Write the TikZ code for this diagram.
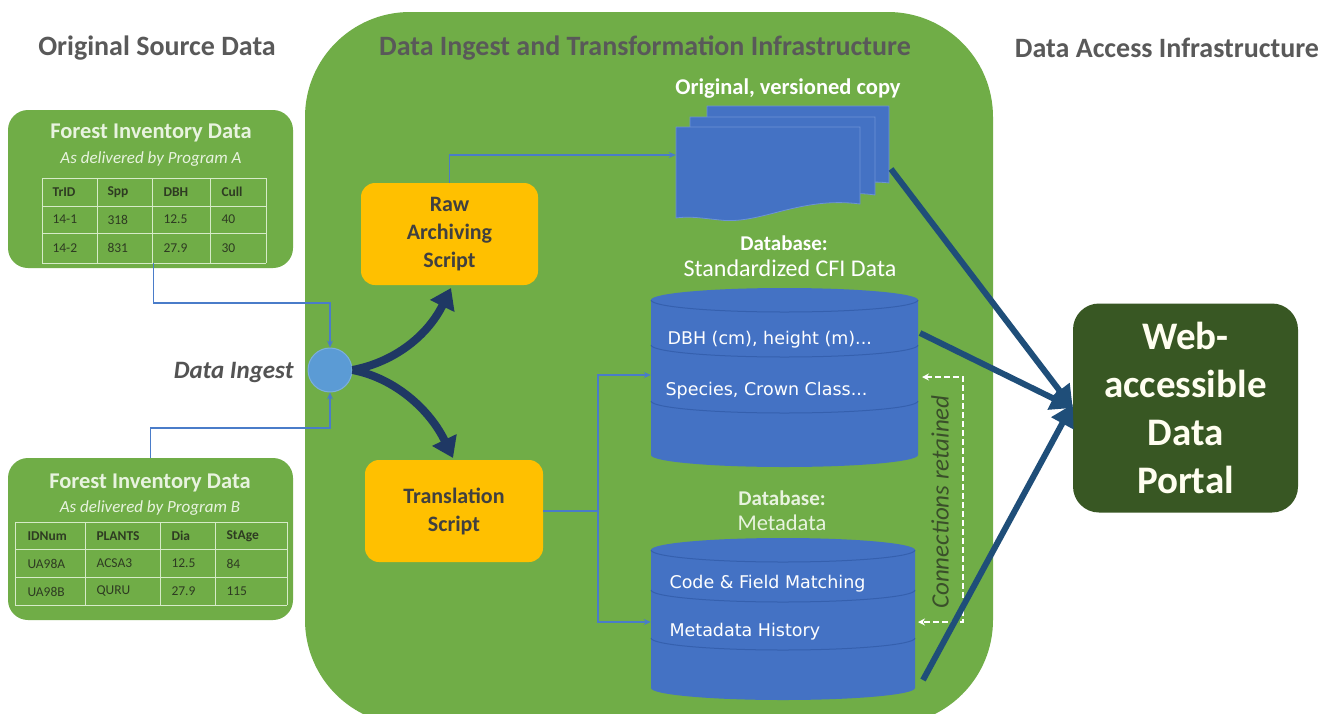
\documentclass[tikz,border=0pt]{standalone}
\usepackage{fontspec}
\setmainfont{Carlito}
\newfontfamily\dvsans{DejaVu Sans}
\usetikzlibrary{arrows.meta}
\definecolor{gr}{HTML}{70AD47}
\definecolor{ylw}{HTML}{FFC000}
\definecolor{dbblue}{HTML}{4472C4}
\definecolor{dbedge}{HTML}{3560AE}
\definecolor{sheetedge}{HTML}{6C93D6}
\definecolor{circ}{HTML}{5B9BD5}
\definecolor{lblue}{HTML}{4A7CC9}
\definecolor{navy}{HTML}{1F3864}
\definecolor{parrow}{HTML}{1F4E79}
\definecolor{portalg}{HTML}{385723}
\definecolor{titlegray}{HTML}{595959}
\definecolor{darktxt}{HTML}{404040}
\definecolor{celltxt}{HTML}{2E3B22}
\definecolor{tline}{HTML}{D6EBC8}
\definecolor{paletxt}{HTML}{E8F3DF}
\definecolor{connlbl}{HTML}{3A4F2A}
\tikzset{
  heading/.style={font=\fontsize{28}{32}\selectfont\bfseries, text=titlegray},
  srcbox/.style={fill=gr, rounded corners=20pt, draw=none},
  srctitle/.style={font=\fontsize{22.5}{26}\selectfont\bfseries, text=paletxt},
  srcsub/.style={font=\fontsize{17}{20}\selectfont\itshape, text=paletxt},
  cell/.style={font=\fontsize{13.5}{15}\selectfont, text=celltxt, anchor=west},
  hcell/.style={cell, font=\fontsize{13.5}{15}\selectfont\bfseries},
  tab/.style={draw=tline, line width=1pt},
  scriptbox/.style={fill=ylw, rounded corners=14pt, draw=none, text=darktxt,
     font=\fontsize{22}{28}\selectfont\bfseries, align=center},
  conn/.style={draw=lblue, line width=1.6pt, -{Stealth[length=7pt,width=6pt]}},
  plainconn/.style={draw=lblue, line width=1.6pt},
  bigcurve/.style={draw=navy, line width=8pt, -{Triangle[length=20pt,width=26pt]}},
  portalarrow/.style={draw=parrow, line width=6pt, -{Triangle[length=22pt,width=24pt]}},
  dbtxt/.style={font=\dvsans\fontsize{17.5}{20}\selectfont, text=white, anchor=west},
  lbl/.style={text=white, font=\fontsize{18}{22}\selectfont},
  sheet/.style={fill=dbblue, draw=sheetedge, line width=0.8pt},
  cylfill/.style={fill=dbblue, draw=none},
  cyline/.style={draw=dbedge, line width=1pt},
}
\begin{document}
\begin{tikzpicture}[x=1pt,y=-1pt]
\useasboundingbox (0,0) rectangle (1336,713);
\fill[white] (0,0) rectangle (1336,713);
% big green area
\begin{scope}
\clip (0,0) rectangle (1336,713);
\fill[gr, rounded corners=105pt] (305,12) rectangle (993,725);
\end{scope}

% headings
\node[heading] (h1) at (157,48) {Original Source Data};
\node[heading] (h2) at (645,48) {Data Ingest and Transformation Infrastructure};
\node[heading] (h3) at (1167,48) {Data Access Infrastructure};

% ---------- source box A ----------
\fill[srcbox] (8,110) rectangle (293,268);
\node[srctitle] (tA) at (151,133) {Forest Inventory Data};
\node[srcsub] (sA) at (151,159) {As delivered by Program A};
\foreach \y in {178,206,233,263} \draw[tab] (42,\y) -- (266,\y);
\foreach \x in {42,97,152,210,266} \draw[tab] (\x,178) -- (\x,263);
\node[inner sep=0, minimum width=223pt, minimum height=85pt] (tabA) at (153.5,220.5) {};
\node[hcell] at (49,192) {TrID};
\node[hcell] at (104,192) {Spp};
\node[hcell] at (160,192) {DBH};
\node[hcell] at (218,192) {Cull};
\node[cell] at (49,219.5) {14-1};
\node[cell] at (104,219.5) {318};
\node[cell] at (160,219.5) {12.5};
\node[cell] at (218,219.5) {40};
\node[cell] at (49,248) {14-2};
\node[cell] at (104,248) {831};
\node[cell] at (160,248) {27.9};
\node[cell] at (218,248) {30};

% ---------- source box B ----------
\fill[srcbox] (8,458) rectangle (293,620);
\node[inner sep=0, minimum width=285pt, minimum height=162pt] (srcB) at (150.5,539) {};
\node[srctitle] (tB) at (150,483) {Forest Inventory Data};
\node[srcsub] (sB) at (150,508) {As delivered by Program B};
\foreach \y in {522,549,577,605} \draw[tab] (15,\y) -- (287,\y);
\foreach \x in {15,85,160,215,287} \draw[tab] (\x,522) -- (\x,605);
\node[hcell] at (24,536) {IDNum};
\node[hcell] at (93,536) {PLANTS};
\node[hcell] at (168,536) {Dia};
\node[hcell] at (223,536) {StAge};
\node[cell] at (24,563.5) {UA98A};
\node[cell] at (93,563.5) {ACSA3};
\node[cell] at (168,563.5) {12.5};
\node[cell] at (223,563.5) {84};
\node[cell] at (24,591.5) {UA98B};
\node[cell] at (93,591.5) {QURU};
\node[cell] at (168,591.5) {27.9};
\node[cell] at (223,591.5) {115};

% ---------- ingest circle ----------
\node[circle, fill=circ, draw=circ!80!white, line width=1pt, minimum size=44pt, inner sep=0] (ingest) at (330,370) {};
\node[font=\fontsize{25}{28}\selectfont\bfseries\itshape, text=darktxt!90, anchor=east] (ingl) at (297,372) {Data Ingest};

\draw[conn] (tabA.south) -- ++(0,40) -| (ingest.north);
\draw[conn] (srcB.north) -- ++(0,-30) -| (ingest.south);

% ---------- script boxes ----------
\node[scriptbox, minimum width=177pt, minimum height=102pt] (raw) at (449.5,234) {Raw\\Archiving\\Script};
\node[scriptbox, minimum width=178pt, minimum height=102pt] (trans) at (454,511) {Translation\\Script};

\draw[bigcurve] (ingest.east) .. controls (395,362) and (428,335) .. (451,288);
\draw[bigcurve] (ingest.east) .. controls (395,378) and (430,410) .. (453,458);

% ---------- stack of sheets ----------
\draw[sheet] (707,106) -- (889,106) -- (889,183) .. controls (850,178) and (820,195) .. (760,200) -- (707,200) -- cycle;
\draw[sheet] (690,117) -- (875,117) -- (875,195) .. controls (830,188) and (800,210) .. (740,208) -- (690,208) -- cycle;
\draw[sheet] (676,127) -- (860,127) -- (860,204) .. controls (800,196) and (760,225) .. (720,220) .. controls (700,218) and (690,216) .. (676,218) -- cycle;
\node[inner sep=0, minimum width=184pt, minimum height=56pt] (stack) at (768,155) {};
\node[lbl, font=\fontsize{22.5}{26}\selectfont\bfseries] (origlbl) at (788,89) {Original, versioned copy};

\draw[conn] (raw.north) |- (stack.west);

% ---------- cylinder 1 ----------
\fill[cylfill] (651,300) -- (651,455) arc[start angle=180, end angle=360, x radius=133.5pt, y radius=12pt] -- (918,300) arc[start angle=0, end angle=180, x radius=133.5pt, y radius=12pt] -- cycle;
\draw[cyline] (651,300) arc[start angle=180, end angle=360, x radius=133.5pt, y radius=12pt];
\draw[cyline] (651,345) arc[start angle=180, end angle=360, x radius=133.5pt, y radius=12pt];
\draw[cyline] (651,401) arc[start angle=180, end angle=360, x radius=133.5pt, y radius=12pt];
\node[inner sep=0, minimum width=267pt, minimum height=150pt] (cyl1) at (784.5,375) {};
\node[dbtxt] (c1a) at (664,340) {DBH (cm), height (m)...};
\node[dbtxt] (c1b) at (662,391) {Species, Crown Class...};
\node[lbl, font=\fontsize{21}{24}\selectfont\bfseries] (db1a) at (784,243) {Database:};
\node[lbl, font=\fontsize{24}{28}\selectfont] (db1b) at (790,268) {Standardized CFI Data};

% ---------- cylinder 2 ----------
\fill[cylfill] (651,550) -- (651,688) arc[start angle=180, end angle=360, x radius=132pt, y radius=12pt] -- (915,550) arc[start angle=0, end angle=180, x radius=132pt, y radius=12pt] -- cycle;
\draw[cyline] (651,550) arc[start angle=180, end angle=360, x radius=132pt, y radius=12pt];
\draw[cyline] (651,590) arc[start angle=180, end angle=360, x radius=132pt, y radius=12pt];
\draw[cyline] (651,638) arc[start angle=180, end angle=360, x radius=132pt, y radius=12pt];
\node[inner sep=0, minimum width=264pt, minimum height=144pt] (cyl2) at (783,622) {};
\node[dbtxt] (c2a) at (666,584) {Code \& Field Matching};
\node[dbtxt] (c2b) at (666,632) {Metadata History};
\node[text=paletxt, font=\fontsize{21}{24}\selectfont\bfseries] (db2a) at (782,498) {Database:};
\node[text=paletxt, font=\fontsize{22.5}{26}\selectfont, anchor=west] (db2b) at (734,523) {Metadata};

% translation connectors
\draw[plainconn] (trans.east) -- ++(55,0) coordinate (tj);
\draw[conn] (tj) |- (cyl1.west);
\draw[conn] (tj) |- (cyl2.west);

% connections retained
\coordinate (dr1) at (963,377);
\coordinate (dr2) at (963,622);
\draw[white, line width=1.8pt, dash pattern=on 6pt off 3pt, {Stealth[length=7pt,width=7pt]}-{Stealth[length=7pt,width=7pt]}] (922,377) -- (dr1) -- (dr2) -- (918,622);
\node[rotate=90, font=\fontsize{25}{28}\selectfont\itshape, text=connlbl] (connlbl) at (940,502) {Connections retained};

% ---------- portal ----------
\node[fill=portalg, rounded corners=26pt, minimum width=225pt, minimum height=209pt, text=white!94!yellow, font=\fontsize{39}{48}\selectfont\bfseries, align=center] (portal) at (1185.5,408) {Web-\\accessible\\Data\\Portal};

\coordinate (s1) at (891,169);
\coordinate (s2) at (920,333);
\coordinate (s3) at (923,680);
\draw[portalarrow] (s1) -- (portal.west);
\draw[portalarrow] (s2) -- (portal.west);
\draw[portalarrow] (s3) -- ([yshift=4pt]portal.west);
\end{tikzpicture}
\end{document}
